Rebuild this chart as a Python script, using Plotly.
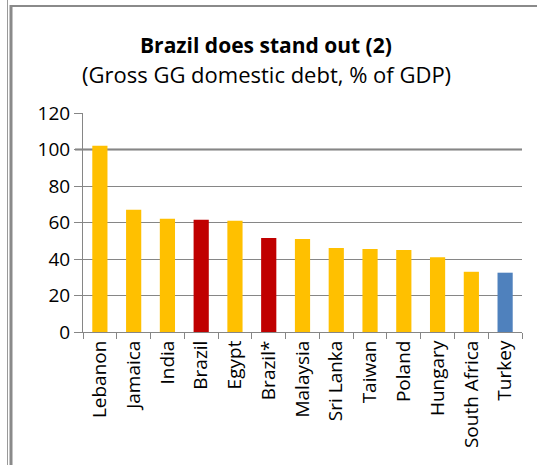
import plotly.graph_objects as go

countries = ["Lebanon", "Jamaica", "India", "Brazil", "Egypt", "Brazil*", "Malaysia",
             "Sri Lanka", "Taiwan", "Poland", "Hungary", "South Africa", "Turkey"]
debt = [102, 67, 62, 61.5, 61, 51.5, 51, 46, 45.5, 45, 41, 33, 32.5]
colors = ["#FFC000", "#FFC000", "#FFC000", "#C00000", "#FFC000", "#C00000", "#FFC000",
          "#FFC000", "#FFC000", "#FFC000", "#FFC000", "#FFC000", "#4F81BD"]
y_ticks = [0, 20, 40, 60, 80, 100, 120]

W, H = 537, 465
L, R, T, B = 83, 522, 113, 332
FONT = "Open Sans, sans-serif"

def px(x):
    return (x - L) / (R - L)

def py(y):
    return (B - y) / (B - T)

fig = go.Figure(go.Bar(x=countries, y=debt, marker=dict(color=colors, line=dict(width=0)),
                       width=0.45))

fig.update_layout(
    width=W, height=H,
    margin=dict(l=L, r=W - R, t=T, b=H - B, pad=0, autoexpand=False),
    paper_bgcolor="white", plot_bgcolor="white",
    showlegend=False,
    font=dict(family=FONT, size=18, color="#000000"),
    bargap=0.55,
)
fig.update_yaxes(range=[0, 120], tickvals=y_ticks, showgrid=True, gridcolor="#868686",
                 gridwidth=1, showline=True, linecolor="#868686", linewidth=1,
                 ticks="outside", ticklen=8, tickcolor="#868686",
                 tickfont=dict(family=FONT, size=19, color="#000000"), zeroline=False,
                 automargin=False)
fig.update_xaxes(showline=True, linecolor="#868686", linewidth=1, ticks="outside",
                 ticklen=6, tickcolor="#868686", tickson="boundaries", tickangle=-90,
                 tickfont=dict(family=FONT, size=19, color="#000000"), showgrid=False,
                 automargin=False)

# slightly heavier gridline at 100 as in the reference
fig.add_shape(type="line", xref="paper", yref="y", x0=px(75), x1=1, y0=y_ticks[5], y1=y_ticks[5],
              line=dict(color="#7a7a7a", width=2), layer="below")

fig.add_annotation(text="<b>Brazil does stand out (2)</b>", xref="paper", yref="paper",
                   x=px(266), y=py(45), showarrow=False, xanchor="center", yanchor="middle",
                   font=dict(family=FONT, size=21, color="#000000"))
fig.add_annotation(text="(Gross GG domestic debt, % of GDP)", xref="paper", yref="paper",
                   x=px(266), y=py(74), showarrow=False, xanchor="center", yanchor="middle",
                   font=dict(family=FONT, size=22, color="#000000"))

# frame lines around the chart
fig.add_shape(type="line", xref="paper", yref="paper", x0=px(7.5), x1=px(7.5), y0=py(0), y1=py(465),
              line=dict(color="#9a9a9a", width=1))
fig.add_shape(type="line", xref="paper", yref="paper", x0=px(11), x1=px(11), y0=py(5), y1=py(465),
              line=dict(color="#8a8a8a", width=3))
fig.add_shape(type="line", xref="paper", yref="paper", x0=px(10), x1=px(537), y0=py(6), y1=py(6),
              line=dict(color="#8a8a8a", width=2))

fig.write_html("out.html", config={"displayModeBar": False},
               post_script="document.body.style.margin='0';")
